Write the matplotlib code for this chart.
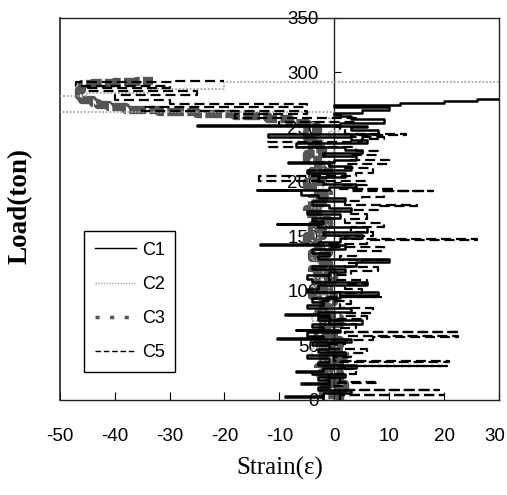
import matplotlib.pyplot as plt
import matplotlib.transforms as mtransforms
from matplotlib.lines import Line2D

plt.rcParams['axes.unicode_minus'] = False

# load (ton) vs strain readings, one pair of lists per gauge
c1_load = [0, 3, 3.5, 6, 9, 12, 15, 15.5, 18, 21,
           24, 26, 26.5, 29, 32, 35, 38, 41, 44, 47,
           50, 53, 56, 56.5, 59, 62, 64, 64.5, 67, 70,
           73, 76, 78, 78.5, 81, 84, 87, 90, 93, 96,
           99, 102, 105, 108, 111, 114, 117, 120, 123, 126,
           129, 132, 135, 138, 142, 142.5, 145, 148, 151, 154,
           158, 161, 161.5, 164, 167, 170, 173, 176, 179, 182,
           185, 188, 192, 192.5, 195, 198, 201, 204, 208, 211,
           214, 217, 217.5, 220, 223, 226, 229, 232, 235, 238,
           241, 244, 247, 250, 251, 251.5, 254, 257, 260, 261,
           263, 266, 268, 270, 272, 274, 276, 278]
c1_strain = [-2, -9, -2, 3, -3, -1, -6, -1, -3, 2,
             -4, -7, -2, 4, -3, -1, -5, 2, -3, -1,
             -4, 3, -10.5, -2, -5, 1, -7, -2, -4, 5,
             -3, -1, -9, -3, 3, -5, -2, -4, 1, 8,
             -5, -3, 6, -4, -5, -1, 2, -4, 4, 10,
             -3, -1, -4, 2, -13.5, -3, 1, 5, -2, 6,
             -3, -10.5, -2, -4, 1, -5, 3, -1, -4, 2,
             -3, -6, -14, -1, 4, -2, -3, 2, -5, 3,
             -1, -8.5, 0, 4, -2, 5, 2, -7, 6, 3,
             -12, 8, 3, 6, -25, 1, 9, 3, 1, 0,
             5, 10, 0, 12, 20, 26, 31, 35]

c2_load = [0, 8, 16, 24, 32, 40, 48, 56, 64, 72,
           80, 88, 96, 104, 112, 120, 128, 136, 144, 152,
           160, 168, 176, 184, 192, 200, 208, 216, 224, 232,
           240, 246, 252, 258, 264, 278, 281, 285, 291]
c2_strain = [-2, -1, -3, -1, -2, -4, -1, -3, -2, -4,
             -2, -3, -1, -4, -2, -3, -4, -2, -3, -1,
             -3, -2, -4, -1, -2, 0, -2, -1, 0, -2,
             -1, 1, -1, 0, -55, -45, -34, -20, 32]

c3_load = [0, 5, 10, 15, 20, 25, 30, 35, 40, 45,
           50, 55, 60, 65, 70, 75, 80, 85, 90, 95,
           100, 105, 110, 115, 120, 125, 130, 135, 140, 145,
           150, 155, 160, 165, 170, 175, 180, 185, 190, 195,
           200, 205, 210, 215, 220, 225, 230, 235, 240, 245,
           250, 254, 257, 260, 262, 264, 266, 268, 270, 272,
           275, 278, 281, 284, 287, 289, 290, 291, 292]
c3_strain = [1, -2, 2, -1, 1, -3, 1, -2, 2, -2,
             1, -3, 0, -2, 1, -3, -1, -2, 0, -4,
             -1, -3, 0, -4, -1, -2, -4, -1, -3, -5,
             -2, -4, -1, -3, -5, -2, -4, -1, -3, -5,
             -2, -4, -1, -3, -5, -2, -4, -3, -5, -3,
             -5, -8, -12, -18, -25, -32, -38, -41, -43, -44,
             -46, -46.5, -46.5, -46, -46, -44, -40, -36, -33]

c5_load = [0, 4.5, 5, 9, 9.5, 13, 15.5, 16, 20, 24,
           28, 31, 31.5, 35, 35.5, 39, 43, 47, 51, 55,
           58, 58.5, 62, 62.5, 66, 70, 74, 77, 80, 84,
           88, 91, 94, 94.5, 98, 102, 106, 110, 114, 118,
           122, 125, 128, 128.5, 132, 136, 140, 143, 146.6, 147,
           150, 154, 158, 162, 166, 170, 174, 178, 178.5, 182,
           186, 191, 191.5, 193, 193.5, 197, 201, 205, 208, 212,
           216, 220, 224, 228, 232, 236, 239, 241, 243, 243.5,
           247, 251, 255, 258, 262, 265, 268, 271, 275, 279,
           283, 286, 288, 291, 292]
c5_strain = [1, 20, 1, 19, 2, 0, 8, 1, -1, 4,
             2, 20.5, 1, 21, 0, 3, 6, -1, 2, 7,
             22.5, 2, 23, 0, 4, -1, 6, 2, 7, 1,
             3, -2, 8.5, 1, 5, 2, 6, -1, 3, 8,
             2, 5, 10, 1, 4, 9, -1, 6, 26, 2,
             7, 3, 9, 2, 6, 3, 8, 15, 2, 5,
             9, 18, 3, 11, 1, 6, -13.8, 4, 7, 2,
             10, 3, 8, 4, -12, 5, 9, 3, 13, 2,
             1, -10, 4, -18, -5, -35, -5, -30, -40, -25,
             -45, -30, -47, -29, -20]

x_ticks = [-50, -40, -30, -20, -10, 0, 10, 20, 30]
y_ticks = [0, 50, 100, 150, 200, 250, 300, 350]

tick_font = ['Liberation Sans', 'DejaVu Sans']
label_font = ['Liberation Serif', 'DejaVu Serif']

fig = plt.figure(figsize=(5.07, 4.95), dpi=100)
ax = fig.add_axes([0.118, 0.192, 0.866, 0.772])

ax.plot(c3_strain, c3_load, color='#555555', lw=6.0, dashes=(2, 0.4),
        drawstyle='steps-pre', zorder=2)
ax.plot(c2_strain, c2_load, color='#a8a8a8', lw=1.3, dashes=(1, 1),
        drawstyle='steps-pre', zorder=3)
ax.plot(c1_strain, c1_load, color='black', lw=1.8,
        drawstyle='steps-pre', zorder=4)
ax.plot(c5_strain, c5_load, color='black', lw=1.6, dashes=(4.5, 2.2),
        drawstyle='steps-pre', zorder=4)

ax.set_xlim(-50, 30)
ax.set_ylim(0, 350)

# y axis sits on strain = 0, box stays around the plot
ax.spines['left'].set_position(('data', 0))
ax.axvline(-50, color='#222222', lw=1.2, clip_on=False)
for s in ax.spines.values():
    s.set_linewidth(1.0)
    s.set_color('#222222')

ax.set_xticks(x_ticks)
ax.set_yticks(y_ticks)
ax.tick_params(axis='x', direction='in', length=6, pad=20)
ax.tick_params(axis='y', direction='in', length=5, pad=11)
for lab in ax.get_xticklabels() + ax.get_yticklabels():
    lab.set_family(tick_font)
    lab.set_fontsize(13.5)

# nudge the last x label so it stays inside the picture
last = ax.get_xticklabels()[-1]
last.set_transform(last.get_transform() +
                   mtransforms.ScaledTranslation(-4 / 100, 0, fig.dpi_scale_trans))

ax.set_xlabel('Strain(ε)', family=label_font, fontsize=18, labelpad=9)
ax.set_ylabel('Load(ton)', family=label_font, fontsize=19.5, fontweight='bold')
ax.yaxis.set_label_coords(-0.062, 0.508, transform=ax.transAxes)

handles = [
    Line2D([], [], color='black', lw=1.0),
    Line2D([], [], color='#a8a8a8', lw=1.0, dashes=(1, 1)),
    Line2D([], [], color='#555555', lw=2.5, dashes=(1.2, 3)),
    Line2D([], [], color='black', lw=1.0, dashes=(4, 2)),
]
leg = ax.legend(handles, ['C1', 'C2', 'C3', 'C5'], loc='lower left',
                bbox_to_anchor=(0.055, 0.073), borderaxespad=0,
                fancybox=False, edgecolor='black', framealpha=1,
                labelspacing=0.95, handlelength=2.3, handletextpad=0.3,
                borderpad=0.6, prop={'family': tick_font, 'size': 13})
leg.get_frame().set_linewidth(1.0)

fig.savefig('out.png', dpi=100)
